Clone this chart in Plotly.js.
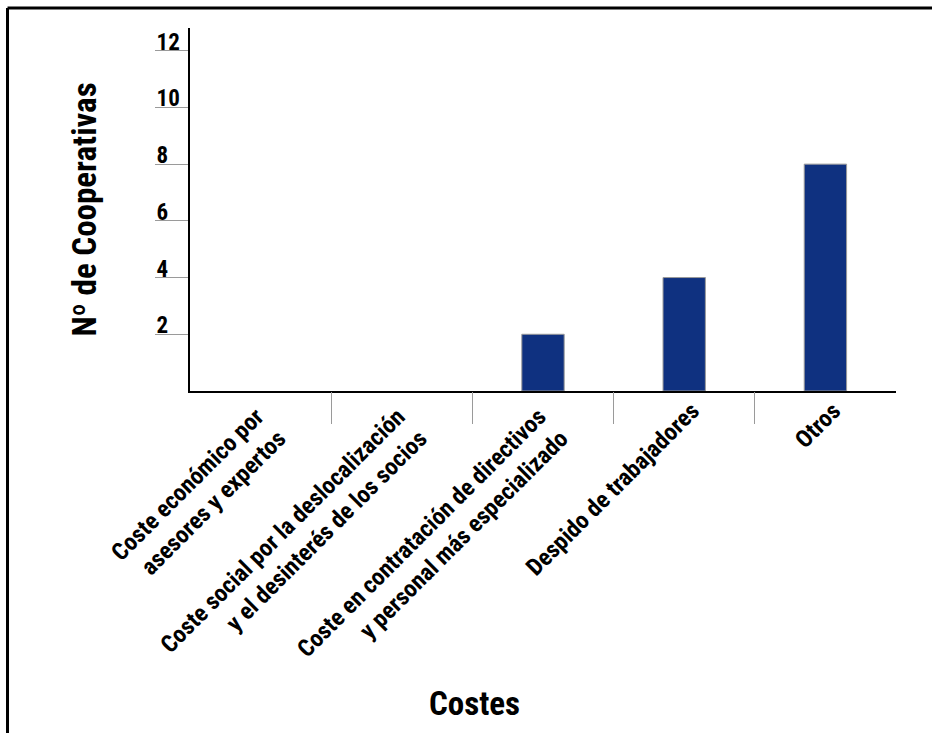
<!DOCTYPE html>
<html>
<head>
<meta charset="utf-8">
<script src="https://cdn.plot.ly/plotly-3.0.1.min.js"></script>
<style>
  html, body { margin: 0; padding: 0; background: #fff; }
  #chart { width: 932px; height: 733px; }
</style>
</head>
<body>
<div id="chart"></div>
<script>
// ---- data ----
const categories = [
  "Coste económico por<br>asesores y expertos",
  "Coste social por la deslocalización<br>y el desinterés de los socios",
  "Coste en contratación de directivos<br>y personal más especializado",
  "Despido de trabajadores",
  "Otros"
];
const values = [0, 0, 2, 4, 8];
const yTickVals = [2, 4, 6, 8, 10, 12];
const yTickText = ["2", "4", "6", "8", "10", "12"];
const separatorVals = [0.5, 1.5, 2.5, 3.5];
const yTitle = "Nº de Cooperativas";
const xTitle = "Costes";

const FONT = '"Roboto Condensed", "Archivo Narrow", "Open Sans Condensed", sans-serif';

// two-line labels and one-line labels are placed by two overlaid category axes
const twoLineCats = categories.filter(c => c.includes('<br>'));
const oneLineCats = categories.filter(c => !c.includes('<br>'));

const barTrace = {
  type: 'bar',
  x: categories,
  y: values,
  width: 0.3,
  marker: {
    color: '#0f3180',
    line: { color: '#9a9a9a', width: values.map(v => (v > 0 ? 1 : 0)) }
  },
  hoverinfo: 'x+y',
  showlegend: false
};

// invisible helper traces so that the overlay axes are drawn
const helperTrace = {
  type: 'scatter', mode: 'markers',
  x: [separatorVals[0]], y: [yTickVals[0]],
  xaxis: 'x2', yaxis: 'y2',
  marker: { opacity: 0, size: 1 }, hoverinfo: 'skip', showlegend: false
};
const helperTrace3 = {
  type: 'scatter', mode: 'markers',
  x: [oneLineCats[0]], y: [yTickVals[0]],
  xaxis: 'x3', yaxis: 'y',
  marker: { opacity: 0, size: 1 }, hoverinfo: 'skip', showlegend: false
};

const tickFont = { family: FONT, size: 24, color: '#000', weight: 700 };

const layout = {
  width: 932,
  height: 733,
  margin: { l: 100, r: 36, t: 28, b: 342 },
  paper_bgcolor: '#ffffff',
  plot_bgcolor: '#ffffff',
  font: { family: FONT, color: '#000', weight: 700 },
  showlegend: false,
  xaxis: {
    domain: [0.11307, 1],
    type: 'category',
    categoryorder: 'array',
    categoryarray: categories,
    range: [-0.5, 4.5],
    tickmode: 'array',
    tickvals: twoLineCats,
    ticktext: twoLineCats,
    showline: true,
    linecolor: '#000',
    linewidth: 2,
    ticks: '',
    tickangle: -45,
    ticklabelshift: -4,
    tickfont: tickFont,
    showgrid: false,
    zeroline: false,
    fixedrange: true
  },
  xaxis3: {
    domain: [0.11307, 1],
    overlaying: 'x',
    anchor: 'y',
    type: 'category',
    categoryorder: 'array',
    categoryarray: categories,
    range: [-0.5, 4.5],
    tickmode: 'array',
    tickvals: oneLineCats,
    ticktext: oneLineCats,
    ticks: '',
    tickangle: -45,
    ticklabelshift: 8,
    tickfont: tickFont,
    showline: false,
    showgrid: false,
    zeroline: false,
    fixedrange: true
  },
  xaxis2: {
    domain: [0.11307, 1],
    overlaying: 'x',
    anchor: 'y',
    type: 'linear',
    range: [-0.5, 4.5],
    tickmode: 'array',
    tickvals: separatorVals,
    ticks: 'outside',
    ticklen: 32,
    tickwidth: 1,
    tickcolor: '#9a9a9a',
    showticklabels: false,
    showline: false,
    showgrid: false,
    zeroline: false,
    fixedrange: true
  },
  yaxis: {
    range: [0, 12.8],
    anchor: 'x',
    tickmode: 'array',
    tickvals: yTickVals,
    ticks: 'outside',
    ticklen: 33,
    tickwidth: 1,
    tickcolor: '#9a9a9a',
    showticklabels: false,
    showline: true,
    linecolor: '#000',
    linewidth: 2,
    showgrid: false,
    zeroline: false,
    fixedrange: true,
    title: { text: yTitle, font: { family: FONT, size: 33, color: '#000', weight: 700 }, standoff: 48 }
  },
  yaxis2: {
    range: [0, 12.8],
    overlaying: 'y',
    anchor: 'free',
    side: 'right',
    position: 0.0698,
    tickmode: 'array',
    tickvals: yTickVals,
    ticktext: yTickText,
    ticks: '',
    ticklabelposition: 'outside',
    ticklabelshift: -9,
    tickfont: { family: FONT, size: 23, color: '#000', weight: 700 },
    showline: false,
    showgrid: false,
    zeroline: false,
    fixedrange: true
  },
  annotations: [
    {
      text: xTitle,
      xref: 'paper', yref: 'paper',
      x: 0.471, y: -0.862,
      xanchor: 'center', yanchor: 'middle',
      showarrow: false,
      font: { family: FONT, size: 33, color: '#000', weight: 700 }
    }
  ],
  shapes: [
    { type: 'line', xref: 'paper', yref: 'paper', x0: -0.1162, x1: 1.2, y0: 1.0551, y1: 1.0551,
      line: { color: '#000', width: 3 } },
    { type: 'line', xref: 'paper', yref: 'paper', x0: -0.1162, x1: -0.1162, y0: 1.0551, y1: -1.2,
      line: { color: '#000', width: 3 } }
  ]
};

Plotly.newPlot('chart', [barTrace, helperTrace, helperTrace3], layout, { displayModeBar: false });
</script>
</body>
</html>
